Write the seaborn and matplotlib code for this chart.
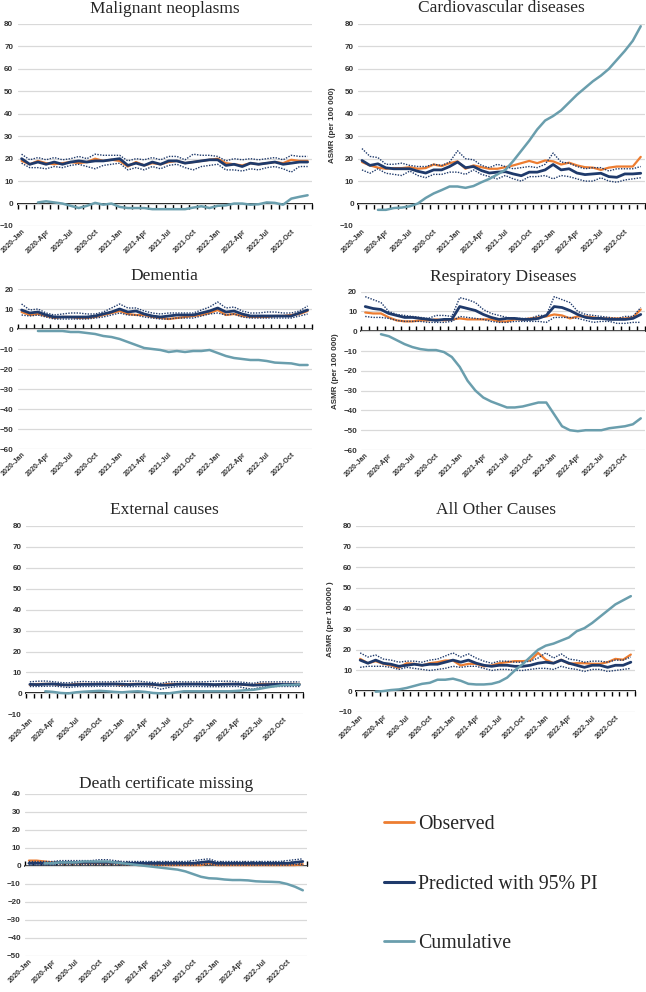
import numpy as np
import matplotlib.pyplot as plt
from matplotlib.lines import Line2D
import seaborn as sns

# --- data (ASMR per 100 000), Jan 2020 .. Dec 2022 ---
years = [2020, 2021, 2022]
month_names = ["Jan", "Feb", "Mar", "Apr", "May", "Jun",
               "Jul", "Aug", "Sep", "Oct", "Nov", "Dec"]
months = [f"{y}-{m}" for y in years for m in month_names]

malig_obs = [19, 17.5, 19, 18, 17.5, 18, 18.5, 18, 18.5, 20, 19, 19.5, 19, 16.5, 18.5, 17, 18, 17.5,
             18.5, 19, 18, 18.5, 19, 19.5, 20, 18, 17.5, 17, 18, 17.5, 18, 18.5, 18, 19.5, 19, 19]
malig_pred = [20, 17.5, 18.5, 17.5, 18.5, 17.5, 18.5, 19, 18.5, 19, 19, 19.5, 20, 17, 18, 17, 18.5, 17.5,
              19, 19, 18, 18.5, 19, 19.5, 19.5, 17, 17.5, 16.5, 18, 17.5, 18, 18.5, 17.5, 18, 18.5, 18.5]
malig_hi = [22, 19.5, 20.5, 19.5, 20.5, 19.5, 20, 21, 20, 22, 21.5, 21.5, 21.5, 19, 20, 19.5, 20.5, 19.5,
            21, 21, 19.5, 22, 21.5, 21.5, 21, 19, 20, 19.5, 20, 19.5, 20, 20.5, 19.5, 21.5, 21, 21]
malig_lo = [18, 16, 16, 15.5, 16.5, 16, 17, 17.5, 16.5, 15.5, 17, 17.5, 18, 15, 16, 15, 16.5, 15.5,
            17, 17.5, 16, 15, 16.5, 17, 17.5, 15, 15, 14.5, 15.5, 15, 16, 16.5, 15.5, 14, 16.5, 16.5]
malig_cum = [0.5, 1.0, 0.5, 0, -1, -2, -1, 0.3, -0.5, 0, -1.5, -2, -2, -2, -2.5, -2.5, -2.5,
             -2.5, -2.5, -1.8, -1.2, -2, -1, -0.8, 0, 0, -0.5, -0.3, 0.5, 0.3, -0.5, 2.2, 3, 3.7]

cardio_obs = [18.5, 17, 16, 15.5, 15.8, 15.8, 16.2, 15.5, 15.8, 17.4, 16.7, 18, 18.8, 15.5, 17, 16.2, 15.5, 15.5,
              16.2, 17, 18, 19, 18, 19.2, 18.8, 17.4, 18.2, 17, 16.2, 16, 15, 16, 16.5, 16.5, 16.5, 20.8]
cardio_pred = [19.2, 17, 17.7, 15.9, 15.5, 15.5, 15.5, 14.4, 13.6, 15, 15, 16.5, 18.5, 16, 16.5, 14.7, 13.6, 14,
               14.2, 13.2, 12.4, 14, 14, 15, 17.4, 15, 15.5, 13.6, 12.9, 13.2, 13.5, 12, 11.7, 13.2, 13.2, 13.5]
cardio_hi = [24.5, 21, 20.5, 17.5, 17.5, 18, 17, 16.5, 16.5, 17.5, 17, 18.5, 23.5, 20, 19.5, 17, 16, 17.5,
             16.5, 15.5, 16, 16.5, 16, 17.5, 22.5, 18.5, 18, 16.5, 15.5, 16, 16, 14.5, 15.5, 15.5, 15.5, 16.5]
cardio_lo = [15, 13.5, 15.5, 13.5, 13, 12.5, 14.5, 12.5, 11.5, 13, 13, 14, 14, 13, 15, 13, 12, 11,
             12.5, 11, 10, 12, 12, 12.5, 11, 12.5, 12, 11, 10, 10, 11.5, 10, 9.5, 10.5, 11, 11.5]
cardio_cum = [-2.8, -2.8, -2, -1.8, -1.2, 0, 2.5, 4.5, 6, 7.6, 7.6, 7, 7.8, 9.5, 11, 13, 15,
              19, 23.5, 28, 33, 37, 39, 41.5, 45, 48.5, 51.5, 54.5, 57, 60, 64, 68, 72.5, 79]

dem_obs = [8.5, 7, 7.5, 6.5, 5.5, 6, 6, 5.5, 5.5, 6, 7, 8, 9, 7.5, 7, 7, 6, 5.5,
           5, 5.5, 6, 6.5, 7, 8, 9.5, 7, 7.5, 6.5, 6, 6, 6, 6.5, 6.5, 7, 7.5, 9]
dem_pred = [9.5, 8, 8.5, 7, 6, 6, 6, 6, 6, 6.5, 7.5, 8.5, 10, 8.5, 9, 7.5, 6.5, 6,
            6.5, 7, 7, 7, 8, 9, 10.5, 8.5, 9, 7.5, 6.5, 6.5, 6.5, 6.5, 6.5, 6.5, 8, 9.5]
dem_hi = [12.5, 9.5, 10, 8, 7, 7.5, 8, 8, 7.5, 7.5, 8.5, 10.5, 12.5, 10.5, 10.5, 9, 8, 7.5,
          8, 8, 8, 8, 9.5, 11, 13.5, 10.5, 11, 9, 8, 8, 8.5, 8.5, 8, 8, 9, 11.5]
dem_lo = [7, 6.5, 7, 6, 5, 5, 5, 5, 5, 5.5, 6, 7, 8, 7, 7, 6, 5.5, 5,
          5, 5.5, 5.5, 5.5, 6.5, 7.5, 8, 7, 7.5, 6, 5.5, 5.5, 5.5, 5.5, 5.5, 5.5, 6.5, 7.5]
dem_cum = [-1, -1, -1, -1, -1.5, -1.5, -2, -2.5, -3.5, -4, -5, -6.5, -8, -9.5, -10, -10.5, -11.5,
           -11, -11.5, -11, -11, -10.5, -12, -13.5, -14.5, -15, -15.5, -15.5, -16, -16.8, -17, -17.2, -18, -18]

resp_obs = [9.5, 9, 9, 7, 5.5, 5, 5, 5.5, 5.5, 6, 5.5, 6, 6.5, 6, 6, 6, 6, 5,
            5, 6, 6, 6.5, 7, 7.5, 8.5, 8, 6.5, 7.5, 7.5, 7, 6.5, 6.5, 6.5, 6.5, 7, 11]
resp_pred = [12.5, 11.5, 11, 9, 8, 7, 7, 6.5, 6, 5.5, 6, 6, 12.5, 11.5, 10.5, 8.5, 7, 6,
             6.5, 6.5, 6, 6, 6.5, 8, 12.5, 12, 10.5, 8.5, 7, 6.5, 6.5, 6, 6, 6, 6.5, 8.5]
resp_hi = [17.5, 16, 14.5, 10, 8.5, 8, 7.5, 7, 6.5, 8, 8, 7.5, 17, 16, 14.5, 11, 9, 8,
           7, 6.5, 6.5, 6.5, 8, 8, 17.5, 16, 14.5, 10, 8.5, 8, 7.5, 7, 6.5, 7.5, 7.5, 12]
resp_lo = [7.5, 7, 7, 6.5, 5.5, 5, 5, 5, 4.5, 4.5, 4.5, 5, 7.5, 7, 6.5, 6, 5, 4.5,
           4.5, 5, 5, 5, 5, 4.5, 7, 7, 7, 6.5, 5.5, 4.5, 5, 5, 4, 4, 4.5, 4.5]
resp_cum = [-1.5, -2.5, -4.5, -6.5, -8, -9, -9.5, -9.5, -10.5, -13, -18, -25, -30, -33.5, -35.5, -37, -38.5,
            -38.5, -38, -37, -36, -36, -42, -48, -50, -50.5, -50, -50, -50, -49, -48.5, -48, -47, -44]

ext_obs = [4, 4.5, 4.5, 4.5, 4, 4, 4.5, 4.5, 4.5, 4.5, 4.5, 4.5, 4, 4.5, 4.5, 4.5, 4, 4,
           4.5, 4.5, 4.5, 4.5, 4.5, 4.5, 4, 4.5, 4.5, 4.5, 4, 4, 4.5, 4.5, 4.5, 4.5, 4.5, 4.5]
ext_pred = [4.3, 4.2, 4.4, 4.5, 4.2, 4.0, 4.2, 4.3, 4.3, 4.4, 4.4, 4.5, 4.4, 4.2, 4.4, 4.4, 4.3, 3.9,
            4.0, 4.3, 4.4, 4.4, 4.4, 4.3, 4.2, 4.3, 4.4, 4.4, 4.2, 3.9, 4.1, 4.2, 4.3, 4.3, 4.3, 4.2]
ext_hi = [5.5, 5.8, 5.9, 5.6, 5.2, 5.0, 5.5, 5.7, 5.5, 5.5, 5.5, 5.6, 5.8, 5.8, 5.9, 5.5, 5.2, 4.8,
          5.5, 5.6, 5.5, 5.5, 5.5, 5.6, 5.8, 5.8, 5.8, 5.5, 5.2, 4.8, 5.5, 5.5, 5.5, 5.5, 5.5, 5.5]
ext_lo = [3.3, 3.3, 3.4, 3.5, 3.2, 2.8, 3.2, 3.3, 3.3, 3.4, 3.4, 3.5, 3.3, 3.2, 3.3, 3.3, 3.0, 2.0,
          2.8, 3.2, 3.3, 3.3, 3.3, 3.2, 3.2, 3.2, 3.3, 3.3, 2.5, 2.0, 3.0, 3.2, 3.3, 3.3, 3.3, 3.3]
ext_cum = [1, 0.7, 0.2, 0, 0.5, 0.8, 1, 1.2, 1, 0.7, 0.5, 0.8, 1, 0.7, 0.2, 0, 0,
           0.5, 1, 1, 1, 1, 1, 1, 1, 1.2, 1.5, 1.7, 2.3, 3, 3.5, 4, 4, 4.3]

other_obs = [15.6, 13.5, 14.5, 13.2, 12.4, 11.3, 13.5, 13.2, 12.4, 13.5, 14, 14.8, 14.8, 12.4, 13.2, 13.2, 12, 12.4,
             13.5, 14, 14.5, 14.5, 14.8, 18.5, 15.2, 13.5, 15.2, 13.2, 13.5, 13.5, 13.2, 13.2, 14, 15.6, 15.2, 17.7]
other_pred = [15, 13.5, 15, 13.5, 13, 12, 12.5, 13, 12.5, 13, 13, 14, 15, 14, 15, 13.5, 12.5, 12,
              12.5, 12.5, 12, 12, 12.5, 13.5, 14, 13.5, 15, 13.5, 12.5, 11.5, 12.5, 12.5, 11.5, 12.5, 12.5, 14]
other_hi = [18.5, 16.5, 17.5, 15.5, 15, 14, 14.5, 14.5, 14, 15, 15.5, 17, 18.5, 16.5, 18, 16, 14.5, 13.5,
            14.5, 14.5, 14, 14, 14.5, 16, 18.5, 16, 18, 15.5, 15, 14, 14.5, 14.5, 14, 15, 15, 16.5]
other_lo = [11.5, 12, 12, 12, 11.5, 10.5, 11.5, 11, 10.5, 10, 10.5, 11, 12, 11.5, 12, 12, 11, 10,
            10.5, 10.5, 10, 10, 10.5, 11, 11, 10.5, 12, 11, 10.5, 9.5, 10.5, 10.5, 9.5, 10, 10.5, 11]
other_cum = [-0.3, 0, 0.5, 0.8, 1.5, 2.5, 3.5, 4, 5.5, 5.5, 6, 5, 3.5, 3.2, 3.2, 3.5, 4.5,
             6.5, 10, 13, 16.5, 20, 22, 23, 24.5, 26, 29, 30.5, 33, 36, 39, 42, 44, 46]

dcm_obs = [3, 3, 2.5, 2, 1.5, 1.5, 1.5, 1.5, 1.5, 1.5, 1.5, 1.5, 1, 1, 0.5, 0.5, 0.5, 0.5,
           0.5, 0.5, 0.5, 0.5, 0.5, 1.5, 0.5, 0.5, 0.5, 0.5, 0.5, 0.5, 0.5, 0.5, 0.5, 0.5, 0.5, 1]
dcm_pred = [1.5, 1.5, 1.5, 1.5, 2, 2, 2, 2, 2, 2, 2, 2, 1.5, 1.5, 1.5, 1.5, 1.5, 1.5,
            1.5, 1.5, 1.5, 1.5, 2, 2.5, 1.5, 1.5, 1.5, 1.5, 1.5, 1.5, 1.5, 1.5, 1.5, 1.5, 2, 2.5]
dcm_hi = [2.5, 2.5, 2.5, 2.5, 3, 3, 3, 3, 3, 3.5, 3.5, 3, 2.5, 2.5, 2.5, 2.5, 2.5, 2.5,
          2.5, 2.5, 2.5, 3, 3.5, 4, 2.5, 2.5, 2.5, 2.5, 2.5, 2.5, 2.5, 2.5, 2.5, 3, 3.5, 4]
dcm_lo = [0.5, 0.5, 0.5, 0.5, 0.8, 0.8, 0.8, 0.8, 0.8, 0.8, 0.8, 0.8, 0.5, 0.5, 0.5, 0.5, 0.5, 0.5,
          0.5, 0.5, 0.5, 0.5, 0.8, 1, 0.5, 0.5, 0.5, 0.5, 0.5, 0.5, 0.5, 0.5, 0.5, 0.5, 0.8, 1]
dcm_cum = [1.5, 1.5, 2, 2, 2, 2.5, 2.5, 2.5, 2.5, 2, 1.5, 1, 0.5, 0, -0.5, -1, -1.5,
           -2, -3, -4.5, -6, -6.8, -7, -7.5, -7.8, -7.8, -8, -8.5, -8.7, -8.8, -9, -10, -11.5, -13.5]

ORANGE = "#ED7D31"
NAVY = "#1F3A6B"
TEAL = "#6A9EAD"
GRID = "#D9D9D9"

sns.set_theme(style="white")
plt.rcParams["font.family"] = ["Liberation Sans", "DejaVu Sans"]

W, H = 646, 992
fig = plt.figure(figsize=(W / 100, H / 100), dpi=100)


def rect(l, r, t, b):
    # pixel box -> figure fraction
    return [l / W, 1 - b / H, (r - l) / W, (b - t) / H]


def draw_panel(box, title, obs, pred, hi, lo, cum, ylim, pad, ylabel=None):
    ax = fig.add_axes(rect(*box))
    x = np.arange(len(months))
    xc = x[2:]
    sns.lineplot(x=x, y=obs, ax=ax, color=ORANGE, lw=1.6)
    sns.lineplot(x=x, y=pred, ax=ax, color=NAVY, lw=2.0)
    sns.lineplot(x=x, y=hi, ax=ax, color=NAVY, lw=1.0, linestyle=(0, (1, 1)))
    sns.lineplot(x=x, y=lo, ax=ax, color=NAVY, lw=1.0, linestyle=(0, (1, 1)))
    sns.lineplot(x=xc, y=cum, ax=ax, color=TEAL, lw=1.8)

    ax.set_xlim(-0.5, len(months) - 0.5)
    ax.set_ylim(*ylim)
    ax.set_yticks(np.arange(ylim[0], ylim[1] + 1, 10))
    ax.set_xticks(x[::3])
    ax.set_xticklabels(months[::3], rotation=45, ha="right", rotation_mode="anchor")
    ax.tick_params(axis="x", length=0, pad=1.5, labelsize=5.1, labelcolor="#333333")
    ax.tick_params(axis="y", length=0, pad=3, labelsize=5.8, labelcolor="#333333")
    for lab in ax.get_xticklabels() + ax.get_yticklabels():
        lab.set_fontweight("bold")
    ax.grid(axis="y", color=GRID, lw=0.9)
    ax.grid(axis="x", visible=False)
    ax.set_axisbelow(True)
    for s in ax.spines.values():
        s.set_visible(False)
    ax.set_xlabel("")
    ax.set_ylabel("")
    if ylabel:
        ax.set_ylabel(ylabel, fontsize=5.8, fontweight="bold", color="#333333", labelpad=3)
    ax.set_title(title, fontsize=12.5, family=["Liberation Serif", "DejaVu Serif"], pad=pad)

    # zero axis line with category tick marks
    frac = (0 - ylim[0]) / (ylim[1] - ylim[0])
    sec = ax.secondary_xaxis(frac)
    sec.set_xticks(np.arange(-0.5, len(months), 1))
    sec.tick_params(axis="x", direction="out", length=3.5, width=1.0, color="black",
                    labelbottom=False, labeltop=False)
    sec.spines["bottom"].set_color("black")
    sec.spines["bottom"].set_linewidth(1.3)
    return ax


draw_panel((17.5, 311.7, 24, 226), "Malignant neoplasms",
           malig_obs, malig_pred, malig_hi, malig_lo, malig_cum, (-10, 80), 8)
draw_panel((358, 644.7, 24, 226), "Cardiovascular diseases",
           cardio_obs, cardio_pred, cardio_hi, cardio_lo, cardio_cum, (-10, 80), 8.5,
           ylabel="ASMR (per 100 000)")
draw_panel((17.5, 311.7, 289, 449), "Dementia",
           dem_obs, dem_pred, dem_hi, dem_lo, dem_cum, (-60, 20), 6.5)
draw_panel((361.3, 644.7, 291.7, 450), "Respiratory Diseases",
           resp_obs, resp_pred, resp_hi, resp_lo, resp_cum, (-60, 20), 8,
           ylabel="ASMR (per 100 000)")
draw_panel((26, 303.3, 526, 714.3), "External causes",
           ext_obs, ext_pred, ext_hi, ext_lo, ext_cum, (-10, 80), 8.5)
draw_panel((356.3, 634.7, 526, 711.7), "All Other Causes",
           other_obs, other_pred, other_hi, other_lo, other_cum, (-10, 80), 9,
           ylabel="ASMR (per 100000 )")
draw_panel((25, 306.7, 794, 956), "Death certificate missing",
           dcm_obs, dcm_pred, dcm_hi, dcm_lo, dcm_cum, (-50, 40), 4)

handles = [Line2D([], [], color=ORANGE, lw=2),
           Line2D([], [], color=NAVY, lw=2.2),
           Line2D([], [], color=TEAL, lw=2)]
fig.legend(handles, ["Observed", "Predicted with 95% PI", "Cumulative"],
           loc="upper left", bbox_to_anchor=(384 / W, 1 - 815 / H), frameon=False,
           prop={"family": ["Liberation Serif", "DejaVu Serif"], "size": 14.3},
           handlelength=1.5, handletextpad=0.2, labelspacing=2.05,
           borderpad=0, borderaxespad=0)

fig.savefig("out.png", dpi=100)
